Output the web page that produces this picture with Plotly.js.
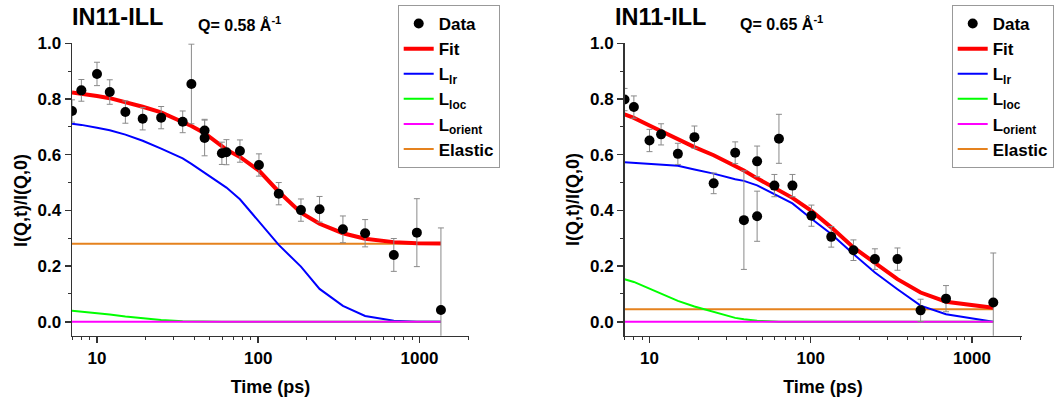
<!DOCTYPE html>
<html><head><meta charset="utf-8">
<script src="https://cdn.plot.ly/plotly-3.0.1.min.js"></script>
<style>html,body{margin:0;padding:0;background:#fff}#chart{width:1057px;height:399px}</style>
</head><body><div id="chart"></div>
<script>
// ---------- Left panel: Q = 0.58 A^-1 ----------
const tDataL = [7, 8, 10, 12, 15, 19.2, 25, 34, 38.5, 46.5, 46.5, 59.5, 63.5, 77, 101, 134, 184, 240, 335, 460, 693, 963, 1358];
const iDataL = [0.757, 0.831, 0.890, 0.825, 0.753, 0.729, 0.733, 0.718, 0.854, 0.687, 0.660, 0.605, 0.609, 0.613, 0.563, 0.460, 0.401, 0.404, 0.332, 0.318, 0.240, 0.320, 0.042];
const errL   = [0.04, 0.039, 0.042, 0.044, 0.04, 0.04, 0.04, 0.039, 0.143, 0.04, 0.064, 0.04, 0.045, 0.04, 0.04, 0.04, 0.04, 0.046, 0.048, 0.049, 0.059, 0.122, 0.295];
const tCurveL = [7, 8, 10, 12, 15, 19.2, 25, 34, 38.5, 46.5, 59.5, 63.5, 77, 101, 134, 184, 240, 335, 460, 693, 963, 1358];
const fitL    = [0.823, 0.819, 0.811, 0.803, 0.790, 0.772, 0.752, 0.717, 0.703, 0.677, 0.630, 0.618, 0.592, 0.543, 0.467, 0.392, 0.352, 0.318, 0.298, 0.286, 0.282, 0.281];
const lrL     = [0.711, 0.707, 0.697, 0.688, 0.672, 0.650, 0.622, 0.587, 0.567, 0.535, 0.495, 0.482, 0.440, 0.359, 0.276, 0.198, 0.118, 0.057, 0.021, 0.004, 0.0, 0.0];
const locL    = [0.040, 0.037, 0.031, 0.026, 0.019, 0.012, 0.006, 0.002, 0.001, 0.0005, 0, 0, 0, 0, 0, 0, 0, 0, 0, 0, 0, 0];
const orientL = [0, 0, 0, 0, 0, 0, 0, 0, 0, 0, 0, 0, 0, 0, 0, 0, 0, 0, 0, 0, 0, 0];
const elasticL = [0.28, 0.28, 0.28, 0.28, 0.28, 0.28, 0.28, 0.28, 0.28, 0.28, 0.28, 0.28, 0.28, 0.28, 0.28, 0.28, 0.28, 0.28, 0.28, 0.28, 0.28, 0.28];

// ---------- Right panel: Q = 0.65 A^-1 ----------
const tDataR = [7, 8, 10, 11.8, 15, 19, 25, 34, 38.5, 46.5, 46.5, 59.5, 63.5, 77, 101, 134, 184, 250, 345, 480, 690, 1355];
const iDataR = [0.798, 0.771, 0.651, 0.673, 0.603, 0.663, 0.497, 0.607, 0.365, 0.576, 0.379, 0.489, 0.657, 0.489, 0.381, 0.305, 0.257, 0.225, 0.225, 0.041, 0.083, 0.069];
const errR   = [0.04, 0.04, 0.04, 0.038, 0.038, 0.04, 0.037, 0.039, 0.177, 0.055, 0.09, 0.04, 0.088, 0.04, 0.038, 0.037, 0.037, 0.037, 0.04, 0.04, 0.047, 0.178];
const tCurveR = [7, 8, 10, 11.8, 15, 19, 25, 34, 38.5, 46.5, 59.5, 63.5, 77, 101, 134, 184, 250, 345, 480, 690, 1355];
const fitR    = [0.745, 0.732, 0.705, 0.684, 0.655, 0.627, 0.598, 0.560, 0.543, 0.515, 0.480, 0.470, 0.445, 0.398, 0.339, 0.267, 0.213, 0.153, 0.105, 0.072, 0.050];
const lrR     = [0.573, 0.571, 0.568, 0.565, 0.560, 0.547, 0.532, 0.512, 0.506, 0.490, 0.457, 0.449, 0.425, 0.370, 0.315, 0.243, 0.177, 0.117, 0.058, 0.027, 0.0];
const locR    = [0.153, 0.143, 0.119, 0.100, 0.075, 0.055, 0.035, 0.014, 0.009, 0.004, 0.001, 0, 0, 0, 0, 0, 0, 0, 0, 0, 0];
const orientR = [0, 0, 0, 0, 0, 0, 0, 0, 0, 0, 0, 0, 0, 0, 0, 0, 0, 0, 0, 0, 0];
const elasticR = [0.045, 0.045, 0.045, 0.045, 0.045, 0.045, 0.045, 0.045, 0.045, 0.045, 0.045, 0.045, 0.045, 0.045, 0.045, 0.045, 0.045, 0.045, 0.045, 0.045, 0.045];

// ---------- labels ----------
const panelTitle = 'IN11-ILL';
const qLabels = ['Q= 0.58 Å<sup>-1</sup>', 'Q= 0.65 Å<sup>-1</sup>'];
const seriesNames = ['Data', 'Fit', 'L<sub>lr</sub>', 'L<sub>loc</sub>', 'L<sub>orient</sub>', 'Elastic'];
const xTickVals = [10, 100, 1000];
const xTickText = ['10', '100', '1000'];
const xTitle = 'Time (ps)';
const yTitle = 'I(Q,t)/I(Q,0)';

const FONT = 'Liberation Sans, Arial, Helvetica, sans-serif';
const colors = {fit: '#FF0000', lr: '#0000FF', loc: '#00FF00', orient: '#FF00FF', elastic: '#E5821E'};

function panelTraces(sfx, leg, tData, iData, err, tCurve, fit, lr, loc, orient, elastic) {
  const ax = {xaxis: 'x' + sfx, yaxis: 'y' + sfx, legend: leg, showlegend: true};
  const g = leg + '_';
  return [
    Object.assign({type: 'scatter', mode: 'lines', x: tCurve, y: elastic, name: seriesNames[5], legendrank: 6, legendgroup: g + 'e',
      line: {color: colors.elastic, width: 2}}, ax),
    Object.assign({type: 'scatter', mode: 'lines', x: tCurve, y: lr, name: seriesNames[2], legendrank: 3, legendgroup: g + 'lr',
      line: {color: colors.lr, width: 2}}, ax),
    Object.assign({type: 'scatter', mode: 'lines', x: tCurve, y: loc, name: seriesNames[3], legendrank: 4, legendgroup: g + 'loc',
      line: {color: colors.loc, width: 2}}, ax),
    Object.assign({type: 'scatter', mode: 'lines', x: tCurve, y: orient, name: seriesNames[4], legendrank: 5, legendgroup: g + 'or',
      line: {color: colors.orient, width: 2}}, ax),
    Object.assign({type: 'scatter', mode: 'lines', x: tCurve, y: fit, name: seriesNames[1], legendrank: 2, legendgroup: g + 'fit',
      line: {color: colors.fit, width: 4}}, ax),
    Object.assign({type: 'scatter', mode: 'markers', x: tData, y: iData, name: seriesNames[0], legendrank: 1, legendgroup: g + 'd',
      marker: {color: '#000', size: 10},
      error_y: {type: 'data', array: err, visible: true, color: '#8a8a8a', thickness: 1, width: 3}}, ax)
  ];
}

const data = [].concat(
  panelTraces('', 'legend', tDataL, iDataL, errL, tCurveL, fitL, lrL, locL, orientL, elasticL),
  panelTraces('2', 'legend2', tDataR, iDataR, errR, tCurveR, fitR, lrR, locR, orientR, elasticR)
);

const W = 1057, H = 399;
const tickFont = {family: FONT, size: 17, color: '#000', weight: 'bold'};
const titleFont = {family: FONT, size: 18, color: '#000', weight: 'bold'};

function xAxis(x0, x1, anchor) {
  return {
    type: 'log', domain: [x0 / W, x1 / W], range: [0.845, 3.307], anchor: anchor,
    showline: true, linecolor: '#333', linewidth: 1.5, mirror: false,
    showgrid: false, zeroline: false,
    ticks: 'outside', ticklen: 6, tickwidth: 1.5, tickcolor: '#333',
    tickmode: 'array', tickvals: xTickVals, ticktext: xTickText,
    tickfont: tickFont,
    minor: {ticks: 'outside', ticklen: 3, tickwidth: 1, tickcolor: '#333', dtick: 'D1', showgrid: false},
    title: {text: xTitle, font: titleFont, standoff: 14}
  };
}
function yAxis(anchor) {
  return {
    domain: [(H - 335.7) / H, (H - 43.3) / H], range: [-0.05, 1.0], anchor: anchor,
    showline: true, linecolor: '#333', linewidth: 1.5, mirror: false,
    showgrid: false, zeroline: false,
    ticks: 'outside', ticklen: 6, tickwidth: 1.5, tickcolor: '#333',
    tick0: 0, dtick: 0.2, tickformat: '.1f',
    tickfont: tickFont,
    minor: {ticks: 'outside', ticklen: 3, tickwidth: 1, tickcolor: '#333', dtick: 0.1, showgrid: false}
  };
}

const legendCommon = {
  xanchor: 'left', yanchor: 'top', bgcolor: '#fff', bordercolor: '#999', borderwidth: 1,
  font: {family: FONT, size: 17, color: '#000', weight: 'bold'},
  tracegroupgap: 5, itemwidth: 30, traceorder: 'normal'
};

function textAnn(x, y, text, size, angle) {
  return {xref: 'paper', yref: 'paper', x: x / W, y: 1 - y / H,
    xanchor: angle ? 'center' : 'left', yanchor: 'middle', showarrow: false, textangle: angle || 0,
    text: text, font: {family: FONT, size: size, color: '#000', weight: 'bold'}};
}

const layout = {
  width: W, height: H,
  margin: {l: 0, r: 0, t: 0, b: 0},
  paper_bgcolor: '#fff', plot_bgcolor: '#fff',
  showlegend: true,
  xaxis: xAxis(72, 469, 'y'),
  yaxis: yAxis('x'),
  xaxis2: xAxis(624.5, 1021.5, 'y2'),
  yaxis2: yAxis('x2'),
  legend: Object.assign({x: 397.7 / W, y: 1 - 5 / H}, legendCommon),
  legend2: Object.assign({x: 951.7 / W, y: 1 - 5 / H}, legendCommon),
  annotations: [
    textAnn(70, 17, panelTitle, 23.5),
    textAnn(196, 24, qLabels[0], 16),
    textAnn(613, 17, panelTitle, 23.5),
    textAnn(738, 23, qLabels[1], 16),
    textAnn(21, 201, yTitle, 18, -90),
    textAnn(573, 200, yTitle, 18, -90)
  ]
};

Plotly.newPlot('chart', data, layout, {displayModeBar: false, staticPlot: true});
</script></body></html>
